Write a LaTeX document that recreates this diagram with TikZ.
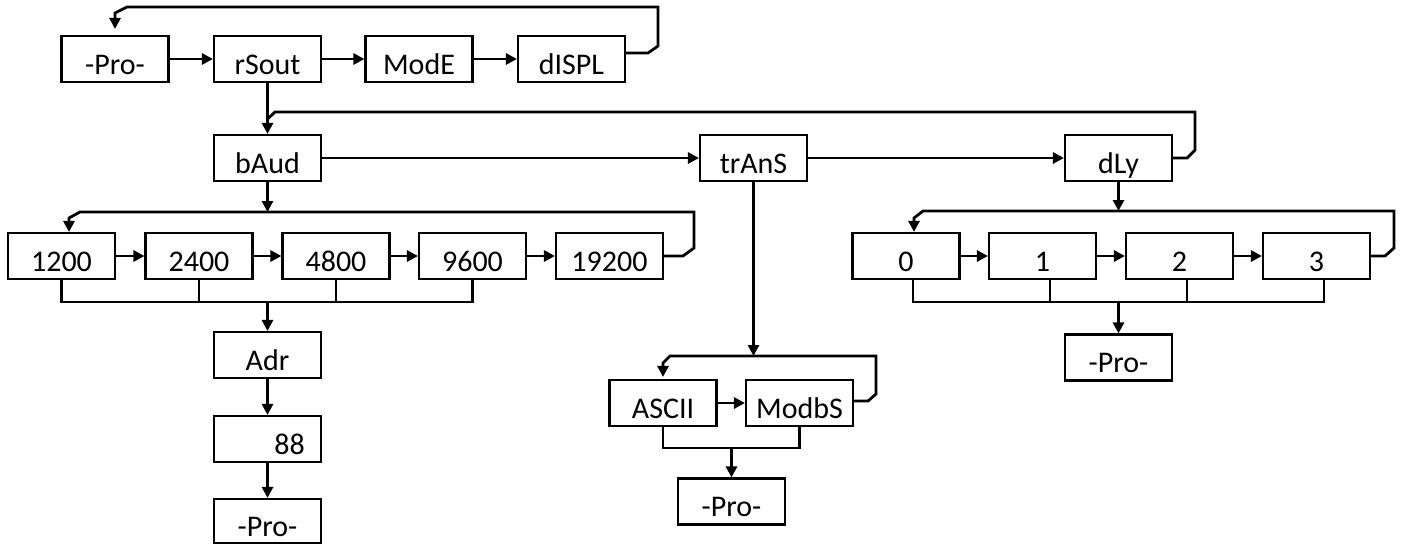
\documentclass[tikz,border=0pt]{standalone}
\usepackage{fontspec}
\setmainfont{Carlito}
\usetikzlibrary{arrows.meta}
\begin{document}
\begin{tikzpicture}[x=1pt,y=-1pt,
  box/.style={draw,line width=2.1pt,minimum width=107pt,minimum height=46pt,inner sep=0pt,
    text height=30pt,text depth=0pt,font=\fontsize{30}{32}\selectfont},
  arr/.style={line width=2.8pt,-{Triangle[length=11pt,width=11pt]}},
  con/.style={line width=2.8pt},
  brk/.style={line width=2.1pt}]
\useasboundingbox (0,0) rectangle (1402,544);
% row 1
\node[box] (pro1) at (115,59) {-Pro-};
\node[box] (rsout) at (267.5,59) {rSout};
\node[box] (mode) at (419,59) {ModE};
\node[box] (displ) at (571.5,59) {dISPL};
% row 2
\node[box] (baud) at (267.5,158) {bAud};
\node[box] (trans) at (753.5,158) {trAnS};
\node[box] (dly) at (1118.5,158) {dLy};
% baud row
\node[box] (b1200) at (61.5,256) {1200};
\node[box] (b2400) at (199,256) {2400};
\node[box] (b4800) at (336,256) {4800};
\node[box] (b9600) at (472.5,256) {9600};
\node[box] (b19200) at (609.5,256) {19200};
% delay row
\node[box] (d0) at (906,256) {0};
\node[box] (d1) at (1042.5,256) {1};
\node[box] (d2) at (1179.5,256) {2};
\node[box] (d3) at (1316.5,256) {3};
% address column
\node[box] (adr) at (267.5,355) {Adr};
\node[box] (n88) at (267.5,439) {\hspace*{44pt}88};
\node[box,minimum height=44pt] (pro2) at (267.5,521) {-Pro-};
% trans
\node[box] (ascii) at (663,403) {ASCII};
\node[box] (modbs) at (799.5,403) {ModbS};
\node[box] (pro3) at (731.5,501.5) {-Pro-};
\node[box] (pro4) at (1118.5,357.5) {-Pro-};

% row 1 connectors
\draw[arr] (pro1) -- (rsout);
\draw[arr] (rsout) -- (mode);
\draw[arr] (mode) -- (displ);
\draw[arr] ([yshift=6pt]displ.east) -- (648,53) -- (658,46) -- (658,7) -- (127,7) -- (115,13) -- ([yshift=6pt]pro1.north);
\draw[arr] (rsout) -- (baud);
% row 2
\draw[arr] (baud) -- (trans);
\draw[arr] (trans) -- (dly);
\draw[con] (dly.east) -- (1187,158) -- (1195,150) -- (1195,112) -- (275,112) -- (267.5,119);
% baud row
\coordinate (bj) at (267.5,212);
\draw[arr] (baud.south) -- (bj);
\draw[arr] (b19200.east) -- (683,256) -- (694,248) -- (694,212) -- (80,212) -- (69,218) -- ([xshift=7.5pt]b1200.north);
\draw[arr] (b1200) -- (b2400);
\draw[arr] (b2400) -- (b4800);
\draw[arr] (b4800) -- (b9600);
\draw[arr] (b9600) -- (b19200);
\draw[brk] (b1200.south) -- (61.5,302) -- (472.5,302) -- (b9600.south);
\draw[brk] (b2400.south) -- (199,302);
\draw[brk] (b4800.south) -- (336,302);
\coordinate (bb) at (267.5,302);
\draw[arr] (bb) -- (adr.north);
\draw[arr] (adr) -- (n88);
\draw[arr] (n88) -- (pro2);
% trans column
\coordinate (tj) at (753.5,356);
\draw[arr] (trans.south) -- (tj);
\draw[arr] ([yshift=2pt]modbs.east) -- (868,401) -- (876,394) -- (876,356) -- (670,356) -- (663,363) -- ([yshift=2pt]ascii.north);
\draw[arr] (ascii) -- (modbs);
\draw[brk] (ascii.south) -- (663,448) -- (799.5,448) -- (modbs.south);
\coordinate (tb) at (731.5,448);
\draw[arr] (tb) -- (pro3.north);
% delay column
\coordinate (dj) at (1118.5,211);
\draw[arr] (dly.south) -- (dj);
\draw[arr] (d3.east) -- (1385,256) -- (1394,248) -- (1394,211) -- (923,211) -- (914,218) -- ([xshift=8pt]d0.north);
\draw[arr] (d0) -- (d1);
\draw[arr] (d1) -- (d2);
\draw[arr] (d2) -- (d3);
\draw[brk] ([xshift=7pt]d0.south) -- (913,302) -- (1324,302) -- ([xshift=7.5pt]d3.south);
\draw[brk] ([xshift=7.5pt]d1.south) -- (1050,302);
\draw[brk] ([xshift=7.5pt]d2.south) -- (1187,302);
\coordinate (db) at (1118.5,302);
\draw[arr] (db) -- (pro4.north);
\end{tikzpicture}
\end{document}
